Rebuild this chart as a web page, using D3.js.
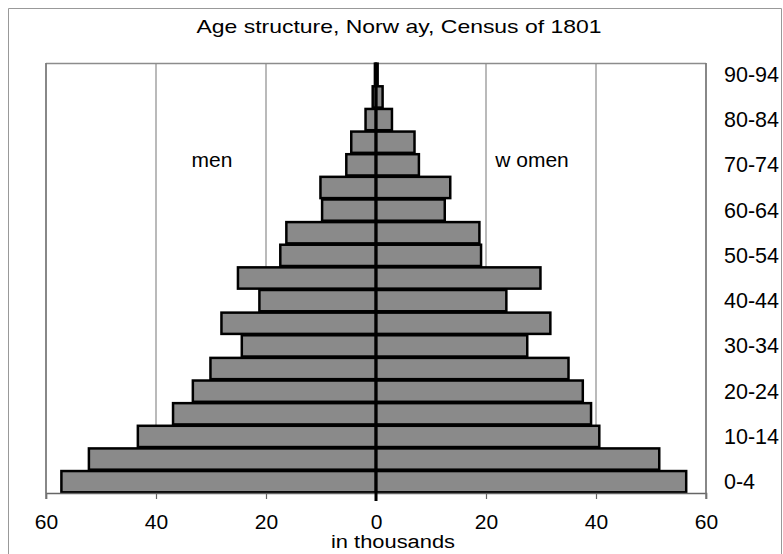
<!DOCTYPE html>
<html>
<head>
<meta charset="utf-8">
<script src="https://cdn.jsdelivr.net/npm/d3@7"></script>
<style>
  body { margin: 0; background: #fff; }
  svg text { font-family: "Liberation Sans", Arial, sans-serif; fill: #000; }
</style>
</head>
<body>
<div id="painting"></div>
<script>
// age groups, bottom to top
var ages = ["0-4","5-9","10-14","15-19","20-24","25-29","30-34","35-39","40-44","45-49",
            "50-54","55-59","60-64","65-69","70-74","75-79","80-84","85-89","90-94"];
// thousands
var men   = [57.2, 52.2, 43.3, 36.9, 33.3, 30.1, 24.4, 28.1, 21.2, 25.1,
             17.4, 16.3, 9.8, 10.1, 5.4, 4.5, 1.9, 0.6, 0.2];
var women = [56.4, 51.5, 40.6, 39.1, 37.6, 35.0, 27.5, 31.7, 23.7, 29.9,
             19.1, 18.8, 12.5, 13.5, 7.8, 7.0, 2.9, 1.2, 0.3];
var tickVals = [-60, -40, -20, 0, 20, 40, 60];
var ageLabels = ["0-4","10-14","20-24","30-34","40-44","50-54","60-64","70-74","80-84","90-94"];

var W = 783, H = 554;
var margin = {top: 63, right: 77, bottom: 61, left: 46};

var svg = d3.select("#painting").append("svg")
  .attr("width", W).attr("height", H);

// outer frame
svg.append("path")
  .attr("d", "M8.5," + H + "V8.5H781.5V" + H)
  .attr("fill", "none").attr("stroke", "#999").attr("stroke-width", 1);

var x = d3.scaleLinear().domain([-60, 60]).range([margin.left, W - margin.right]);
var y = d3.scaleBand().domain(ages).range([H - margin.bottom, margin.top]).paddingInner(0.06).paddingOuter(0.03);

// title
svg.append("text")
  .attr("x", 399).attr("y", 33)
  .attr("text-anchor", "middle")
  .attr("font-size", 19)
  .attr("textLength", 405).attr("lengthAdjust", "spacingAndGlyphs")
  .text("Age structure, Norw ay, Census of 1801");

// grid lines
svg.append("g").selectAll("line")
  .data(tickVals.filter(function(d){ return d !== 0; }))
  .enter().append("line")
  .attr("x1", function(d){ return x(d); }).attr("x2", function(d){ return x(d); })
  .attr("y1", margin.top).attr("y2", H - margin.bottom)
  .attr("stroke", "#8c8c8c").attr("stroke-width", 1.2);

// top border of plot
svg.append("line")
  .attr("x1", x(-60)).attr("x2", x(60))
  .attr("y1", margin.top + 0.5).attr("y2", margin.top + 0.5)
  .attr("stroke", "#8c8c8c").attr("stroke-width", 1.5);

// bars
var bars = svg.append("g");
bars.selectAll("rect.men")
  .data(men).enter().append("rect")
  .attr("class", "men")
  .attr("x", function(d){ return x(-d); })
  .attr("y", function(d, i){ return y(ages[i]); })
  .attr("width", function(d){ return x(0) - x(-d); })
  .attr("height", y.bandwidth())
  .attr("fill", "#8a8a8a").attr("stroke", "#000").attr("stroke-width", 2.5);

bars.selectAll("rect.women")
  .data(women).enter().append("rect")
  .attr("class", "women")
  .attr("x", x(0))
  .attr("y", function(d, i){ return y(ages[i]); })
  .attr("width", function(d){ return x(d) - x(0); })
  .attr("height", y.bandwidth())
  .attr("fill", "#8a8a8a").attr("stroke", "#000").attr("stroke-width", 2.5);

// x axis
var xAxis = d3.axisBottom(x)
  .tickValues(tickVals)
  .tickSize(6)
  .tickFormat(function(d){ return Math.abs(d); });

var gx = svg.append("g")
  .attr("transform", "translate(0," + (H - margin.bottom) + ")")
  .call(xAxis);
gx.select(".domain").attr("stroke", "#666").attr("stroke-width", 1.5);
gx.selectAll(".tick line").attr("stroke", "#666").attr("stroke-width", 1.2);
gx.selectAll(".tick text")
  .attr("y", 21).attr("font-size", 21)
  .style("font-family", "Liberation Sans, Arial, sans-serif").attr("fill", "#000");

// side borders of plot
[-60, 60].forEach(function(v){
  svg.append("line")
    .attr("x1", x(v)).attr("x2", x(v))
    .attr("y1", margin.top).attr("y2", H - margin.bottom + 6)
    .attr("stroke", "#777").attr("stroke-width", 1.5);
});

// zero line
svg.append("line")
  .attr("x1", x(0)).attr("x2", x(0))
  .attr("y1", margin.top).attr("y2", H - margin.bottom + 8)
  .attr("stroke", "#000").attr("stroke-width", 3);

// axis title
svg.append("text")
  .attr("x", 393).attr("y", 548)
  .attr("text-anchor", "middle").attr("font-size", 18)
  .attr("textLength", 124).attr("lengthAdjust", "spacingAndGlyphs")
  .text("in thousands");

// age labels on the right
svg.append("g").selectAll("text")
  .data(ageLabels).enter().append("text")
  .attr("x", 724)
  .attr("y", function(d){ return y(d) + y.bandwidth() / 2; })
  .attr("dy", "0.35em")
  .attr("font-size", 21.5)
  .text(function(d){ return d; });

// sex labels
svg.append("text").attr("x", 212).attr("y", 167)
  .attr("text-anchor", "middle").attr("font-size", 21).text("men");
svg.append("text").attr("x", 532).attr("y", 167)
  .attr("text-anchor", "middle").attr("font-size", 21).text("w omen");
</script>
</body>
</html>
